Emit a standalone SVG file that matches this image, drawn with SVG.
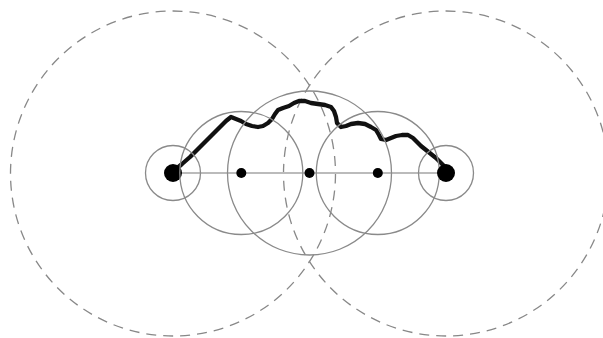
<svg xmlns="http://www.w3.org/2000/svg" width="603" height="338" viewBox="0 0 603 338">
<style>
.dash{fill:none;stroke:#888;stroke-width:1.3;stroke-dasharray:10 7}
.ring{fill:none;stroke:#8a8a8a;stroke-width:1.3}
.dot{fill:#000}
.axis{stroke:#bbb;stroke-width:2}
.walk{fill:none;stroke:#111;stroke-width:4.3;stroke-linejoin:round;stroke-linecap:round}
</style>
<rect width="603" height="338" fill="#fff"/>
<g id="dashed-circles">
<circle class="dash" cx="173" cy="173.5" r="162.5"/>
<circle class="dash" cx="446" cy="173.5" r="162.5"/>
</g>
<g id="connectors">
<line class="axis" x1="173" y1="173" x2="446" y2="173"/>
<path class="walk" d="M176,169 L182,164 L190,157 L197,150 L203,144 L209,138 L214,133 L220,127 L226,121 L231,117 L236,119 L241,121 L246,124 L252,126 L258,127 L263,126 L268,123 L272,119 L275,114 L278,110 L283,108 L289,106 L294,103 L299,101 L305,101 L311,103 L318,104 L325,105 L331,107 L334,111 L336,117 L337,123 L341,127 L346,126 L351,124 L358,123 L365,124 L371,127 L376,130 L379,135 L381,139 L386,140 L391,138 L396,136 L402,135 L408,135 L413,138 L417,142 L421,146 L426,150 L431,154 L436,158 L441,163 L446,168"/>
</g>
<g id="node-start">
<circle class="ring" cx="173" cy="173" r="27.5"/>
<circle class="dot" cx="173" cy="173" r="9"/>
</g>
<g id="node-q1">
<circle class="ring" cx="241.3" cy="173" r="61.5"/>
<circle class="dot" cx="241.3" cy="173" r="5"/>
</g>
<g id="node-mid">
<circle class="ring" cx="309.5" cy="173" r="82"/>
<circle class="dot" cx="309.5" cy="173" r="5"/>
</g>
<g id="node-q3">
<circle class="ring" cx="377.8" cy="173" r="61.5"/>
<circle class="dot" cx="377.8" cy="173" r="5"/>
</g>
<g id="node-end">
<circle class="ring" cx="446" cy="173" r="27.5"/>
<circle class="dot" cx="446" cy="173" r="9"/>
</g>
</svg>
